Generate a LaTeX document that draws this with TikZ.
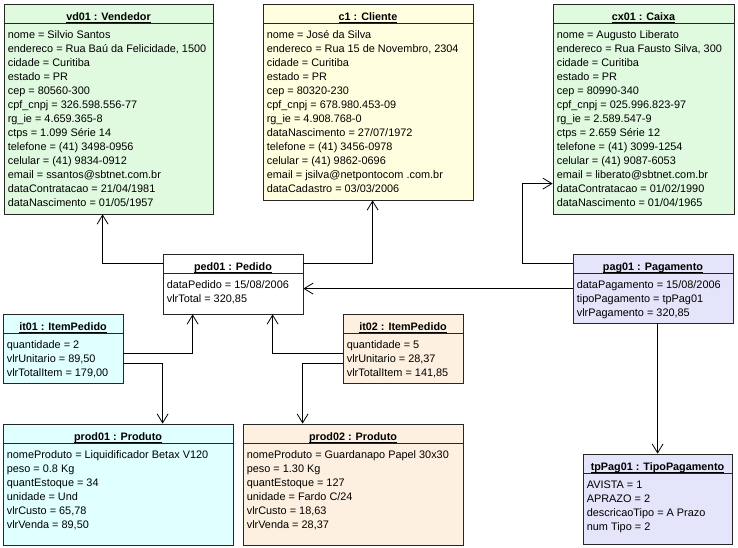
\documentclass[tikz,border=0pt]{standalone}
\usepackage{fontspec}
\setmainfont{Liberation Sans}
\usetikzlibrary{arrows.meta,calc,fit}

\definecolor{objgreen}{RGB}{224,250,224}
\definecolor{objyellow}{RGB}{255,255,224}
\definecolor{objcyan}{RGB}{224,255,255}
\definecolor{objpeach}{RGB}{253,240,224}
\definecolor{objlavender}{RGB}{228,228,250}

% underline at a fixed depth, independent of descenders
\newcommand{\objul}[1]{\setbox0=\hbox{#1}\rlap{\rule[-1.8pt]{\wd0}{0.7pt}}\box0}

\tikzset{
  objframe/.style={draw=black!85, line width=0.8pt, inner sep=0pt, rectangle},
  objtitle/.style={anchor=base, inner sep=0pt, font=\fontsize{10.8}{13}\selectfont\bfseries},
  objattr/.style={anchor=base west, inner sep=0pt, font=\fontsize{10.9}{13}\selectfont},
  objrule/.style={draw=black!85, line width=0.8pt},
  assoc/.style={draw=black, line width=0.8pt, -{Straight Barb[length=9pt,width=11pt]}},
}

% object box: #1 name, #2 fill, #3 left, #4 top, #5 right, #6 bottom, #7 title, #8 attributes
\newcommand{\umlobj}[8]{%
  \node[objframe, fill=#2, fit={(#3,#4) (#5,#6)}] (#1) {};
  \node[objtitle] (#1-title) at ($(#1.north)+(0,17)$) {\objul{#7}};
  \coordinate (#1-head) at ($(#1.north)+(0,10)$);
  \draw[objrule] ($(#1.north west)+(0,20)$) -- ($(#1.north east)+(0,20)$);
  \foreach \attr [count=\k] in {#8} {
    \node[objattr] (#1-a\k) at ($(#1.north west)+(4,21+14*\k)$) {\attr};
  }
}

\begin{document}
\begin{tikzpicture}[x=1pt,y=-1pt]
\fill[white] (0,0) rectangle (738,547);
\useasboundingbox (0,0) rectangle (738,547);

\umlobj{vd}{objgreen}{4}{4}{213}{214}{vd01 : Vendedor}{%
  {nome = Silvio Santos},
  {endereco = Rua Baú da Felicidade, 1500},
  {cidade = Curitiba},
  {estado = PR},
  {cep = 80560-300},
  {cpf\_cnpj = 326.598.556-77},
  {rg\_ie = 4.659.365-8},
  {ctps = 1.099 Série 14},
  {telefone = (41) 3498-0956},
  {celular = (41) 9834-0912},
  {email = ssantos@sbtnet.com.br},
  {dataContratacao = 21/04/1981},
  {dataNascimento = 01/05/1957}}

\umlobj{c1}{objyellow}{263}{4}{473}{200}{c1 : Cliente}{%
  {nome = José da Silva},
  {endereco = Rua 15 de Novembro, 2304},
  {cidade = Curitiba},
  {estado = PR},
  {cep = 80320-230},
  {cpf\_cnpj = 678.980.453-09},
  {rg\_ie = 4.908.768-0},
  {dataNascimento = 27/07/1972},
  {telefone = (41) 3456-0978},
  {celular = (41) 9862-0696},
  {email = jsilva@netpontocom .com.br},
  {dataCadastro = 03/03/2006}}

\umlobj{cx}{objgreen}{553}{4}{734}{214}{cx01 : Caixa}{%
  {nome = Augusto Liberato},
  {endereco = Rua Fausto Silva, 300},
  {cidade = Curitiba},
  {estado = PR},
  {cep = 80990-340},
  {cpf\_cnpj = 025.996.823-97},
  {rg\_ie = 2.589.547-9},
  {ctps = 2.659 Série 12},
  {telefone = (41) 3099-1254},
  {celular = (41) 9087-6053},
  {email = liberato@sbtnet.com.br},
  {dataContratacao = 01/02/1990},
  {dataNascimento = 01/04/1965}}

\umlobj{ped}{white}{163}{254}{303}{314}{ped01 : Pedido}{%
  {dataPedido = 15/08/2006},
  {vlrTotal = 320,85}}

\umlobj{pag}{objlavender}{573}{254}{733}{323}{pag01 : Pagamento}{%
  {dataPagamento = 15/08/2006},
  {tipoPagamento = tpPag01},
  {vlrPagamento = 320,85}}

\umlobj{it1}{objcyan}{3}{314}{123}{383}{it01 : ItemPedido}{%
  {quantidade = 2},
  {vlrUnitario = 89,50},
  {vlrTotalItem = 179,00}}

\umlobj{it2}{objpeach}{343}{314}{463}{383}{it02 : ItemPedido}{%
  {quantidade = 5},
  {vlrUnitario = 28,37},
  {vlrTotalItem = 141,85}}

\umlobj{prod1}{objcyan}{3}{424}{233}{545}{prod01 : Produto}{%
  {nomeProduto = Liquidificador Betax V120},
  {peso = 0.8 Kg},
  {quantEstoque = 34},
  {unidade = Und},
  {vlrCusto = 65,78},
  {vlrVenda = 89,50}}

\umlobj{prod2}{objpeach}{243}{424}{463}{545}{prod02 : Produto}{%
  {nomeProduto = Guardanapo Papel 30x30},
  {peso = 1.30 Kg},
  {quantEstoque = 127},
  {unidade = Fardo C/24},
  {vlrCusto = 18,63},
  {vlrVenda = 28,37}}

\umlobj{tp}{objlavender}{583}{454}{732}{544}{tpPag01 : TipoPagamento}{%
  {AVISTA = 1},
  {APRAZO = 2},
  {descricaoTipo = A Prazo},
  {num Tipo = 2}}

% links between the objects
\draw[assoc] (ped.west |- ped-head) -| ($(vd.south west)+(99,0)$);
\draw[assoc] (ped.east |- ped-head) -| ($(c1.south west)+(110,0)$);
\draw[assoc] (pag.west |- pag-head) -- ++(-50,0) |- ($(cx.north west)+(0,180)$);
\draw[assoc] ($(pag.north west)+(0,35)$) -- ($(ped.north east)+(0,35)$);
\draw[assoc] ($(it1.north east)+(0,40)$) -| ($(ped.south west)+(30,0)$);
\draw[assoc] ($(it1.north east)+(0,50)$) -| ($(prod1.north west)+(160,0)$);
\draw[assoc] ($(it2.north west)+(0,40)$) -| ($(ped.south west)+(110,0)$);
\draw[assoc] ($(it2.north west)+(0,50)$) -| ($(prod2.north west)+(60,0)$);
\draw[assoc] ($(pag.south west)+(85,0)$) -- ($(tp.north west)+(75,0)$);
\end{tikzpicture}
\end{document}
